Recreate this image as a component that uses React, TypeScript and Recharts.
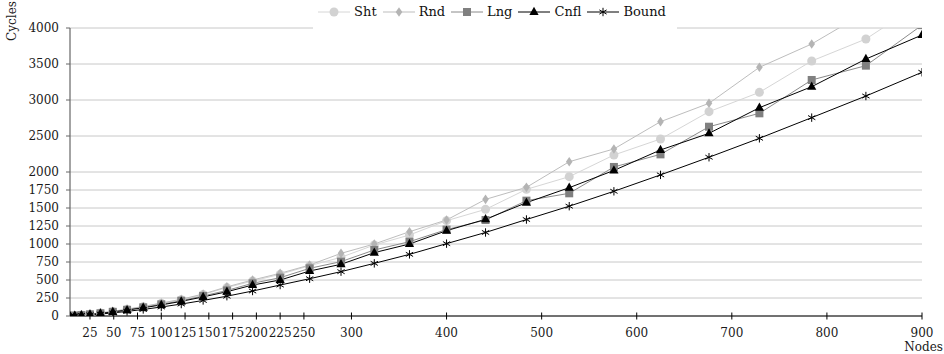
import React from 'react';
import { LineChart, Line, XAxis, YAxis, CartesianGrid, Legend } from 'recharts';

const nodes = [4, 9, 16, 25, 36, 49, 64, 81, 100, 121, 144, 169, 196, 225, 256, 289, 324, 361, 400, 441, 484, 529, 576, 625, 676, 729, 784, 841, 900];
const sht = [3, 6, 14, 26, 42, 64, 93, 130, 176, 226, 298, 395, 486, 579, 699, 815, 986, 1125, 1324, 1481, 1759, 1935, 2236, 2458, 2838, 3106, 3542, 3847, 4360];
const rnd = [3, 6, 14, 26, 43, 65, 95, 132, 180, 232, 305, 405, 500, 593, 708, 870, 1000, 1171, 1333, 1620, 1787, 2143, 2320, 2699, 2954, 3454, 3778, 4220, 4700];
const lng = [2, 5, 12, 23, 38, 58, 86, 120, 162, 212, 278, 355, 454, 532, 662, 755, 917, 1032, 1200, 1333, 1602, 1704, 2070, 2245, 2629, 2815, 3278, 3477, 4040];
const cnfl = [2, 5, 12, 22, 36, 56, 82, 114, 154, 203, 265, 337, 430, 500, 625, 718, 880, 1000, 1185, 1343, 1574, 1782, 2022, 2306, 2537, 2893, 3185, 3569, 3903];
const bound = [1, 3, 8, 16, 27, 43, 64, 91, 125, 166, 216, 275, 347, 430, 518, 616, 731, 856, 1005, 1160, 1340, 1525, 1732, 1960, 2205, 2468, 2755, 3055, 3385];

const xTicks = [25, 50, 75, 100, 125, 150, 175, 200, 225, 250, 300, 400, 500, 600, 700, 800, 900];
const yTicks = [0, 250, 500, 750, 1000, 1250, 1500, 1750, 2000, 2500, 3000, 3500, 4000];

const seriesNames = ['Sht', 'Rnd', 'Lng', 'Cnfl', 'Bound'];

const data = nodes.map((n, i) => ({
  nodes: n,
  Sht: sht[i],
  Rnd: rnd[i],
  Lng: lng[i],
  Cnfl: cnfl[i],
  Bound: bound[i],
}));

const FONT = 'DejaVu Serif';

type Shape = 'circle' | 'diamond' | 'square' | 'triangle' | 'star';
const styles: Record<string, { line: string; fill: string; shape: Shape }> = {
  Sht: { line: '#d6d6d6', fill: '#d2d2d2', shape: 'circle' },
  Rnd: { line: '#bdbdbd', fill: '#b4b4b4', shape: 'diamond' },
  Lng: { line: '#8a8a8a', fill: '#808080', shape: 'square' },
  Cnfl: { line: '#000000', fill: '#000000', shape: 'triangle' },
  Bound: { line: '#000000', fill: '#000000', shape: 'star' },
};

function marker(shape: Shape, fill: string, cx: number, cy: number, key?: string) {
  switch (shape) {
    case 'circle':
      return <circle key={key} cx={cx} cy={cy} r={4.5} fill={fill} />;
    case 'diamond':
      return <polygon key={key} points={`${cx},${cy - 4.8} ${cx + 3.3},${cy} ${cx},${cy + 4.8} ${cx - 3.3},${cy}`} fill={fill} />;
    case 'square':
      return <rect key={key} x={cx - 4} y={cy - 4} width={8} height={8} fill={fill} />;
    case 'triangle':
      return <polygon key={key} points={`${cx},${cy - 5.2} ${cx + 4.6},${cy + 3} ${cx - 4.6},${cy + 3}`} fill={fill} />;
    case 'star': {
      const r = 4.2;
      const dx = r * Math.cos(Math.PI / 6);
      const dy = r * Math.sin(Math.PI / 6);
      return (
        <g key={key} stroke={fill} strokeWidth={1}>
          <line x1={cx} y1={cy - r} x2={cx} y2={cy + r} />
          <line x1={cx - dx} y1={cy - dy} x2={cx + dx} y2={cy + dy} />
          <line x1={cx - dx} y1={cy + dy} x2={cx + dx} y2={cy - dy} />
        </g>
      );
    }
  }
  return null;
}

const makeDot = (name: string) => (props: any) => {
  const { cx, cy, index } = props;
  const s = styles[name];
  if (cx == null || cy == null) return <g key={`${name}-${index}`} />;
  return marker(s.shape, s.fill, cx, cy, `${name}-${index}`);
};

const X_TICK_SIZE = 4;
const X_TICK_MARGIN = 8;

const XTick = (props: any) => {
  const { x, y, payload } = props;
  const axisY = y - X_TICK_SIZE - X_TICK_MARGIN;
  return (
    <g>
      <line x1={x} y1={axisY - 3.5} x2={x} y2={axisY + 3.5} stroke="#000" strokeWidth={1} />
      <text x={x} y={y} dy="0.71em" textAnchor="middle" fontFamily={FONT} fontSize={12} fill="#1a1a1a">
        {payload.value}
      </text>
    </g>
  );
};

const LegendBox = () => (
  <div
    style={{
      background: '#fff',
      height: 30,
      width: '100%',
      display: 'flex',
      alignItems: 'flex-start',
      justifyContent: 'center',
      paddingTop: 5,
      boxSizing: 'border-box',
      fontFamily: FONT,
      fontSize: 13,
      color: '#111',
      lineHeight: '14px',
    }}
  >
    {seriesNames.map((name) => {
      const s = styles[name];
      return (
        <div key={name} style={{ display: 'flex', alignItems: 'center', marginRight: 6 }}>
          <svg width={32} height={14} style={{ display: 'block' }}>
            <line x1={0} y1={7} x2={32} y2={7} stroke={s.line} strokeWidth={1} />
            {marker(s.shape, s.fill, 16, 7)}
          </svg>
          <span style={{ marginLeft: 4 }}>{name}</span>
        </div>
      );
    })}
  </div>
);

export default function App() {
  return (
    <div style={{ position: 'absolute', left: 0, top: 0, width: 944, height: 354, background: '#fff' }}>
      <LineChart
        width={944}
        height={354}
        data={data}
        margin={{ top: 28, right: 22, bottom: 0, left: 0 }}
        style={{ fontFamily: FONT }}
      >
        <CartesianGrid vertical={false} stroke="#c8c8c8" strokeWidth={1} />
        <XAxis
          dataKey="nodes"
          type="number"
          domain={[4, 900]}
          ticks={xTicks}
          interval={0}
          allowDataOverflow
          height={38}
          axisLine={{ stroke: '#000', strokeWidth: 1 }}
          tickLine={false}
          tickSize={X_TICK_SIZE}
          tickMargin={X_TICK_MARGIN}
          tick={<XTick />}
          label={{
            value: 'Nodes',
            content: (p: any) => {
              const vb = p.viewBox;
              return (
                <text x={vb.x + vb.width + 21} y={vb.y + 35} textAnchor="end" fontFamily={FONT} fontSize={12} fill="#1a1a1a">
                  Nodes
                </text>
              );
            },
          }}
        />
        <YAxis
          type="number"
          domain={[0, 4000]}
          ticks={yTicks}
          interval={0}
          allowDataOverflow
          width={70}
          axisLine={{ stroke: '#666', strokeWidth: 1.2 }}
          tickLine={{ stroke: '#666' }}
          tickSize={4}
          tickMargin={7}
          tick={{ fontSize: 12, fill: '#1a1a1a', fontFamily: FONT }}
          label={{
            value: 'Cycles',
            content: (p: any) => {
              const vb = p.viewBox;
              const cx = vb.x + 12;
              const cy = vb.y - 7;
              return (
                <text
                  x={cx}
                  y={cy}
                  transform={`rotate(-90, ${cx}, ${cy})`}
                  textAnchor="middle"
                  dominantBaseline="central"
                  fontFamily={FONT}
                  fontSize={12}
                  fill="#1a1a1a"
                >
                  Cycles
                </text>
              );
            },
          }}
        />
        <Legend
          layout="horizontal"
          verticalAlign="middle"
          align="center"
          wrapperStyle={{ top: 0, left: 313, width: 364, height: 30 }}
          content={() => <LegendBox />}
        />
        {seriesNames.map((name) => (
          <Line
            key={name}
            dataKey={name}
            stroke={styles[name].line}
            strokeWidth={1}
            dot={makeDot(name)}
            activeDot={false}
            isAnimationActive={false}
          />
        ))}
      </LineChart>
    </div>
  );
}
